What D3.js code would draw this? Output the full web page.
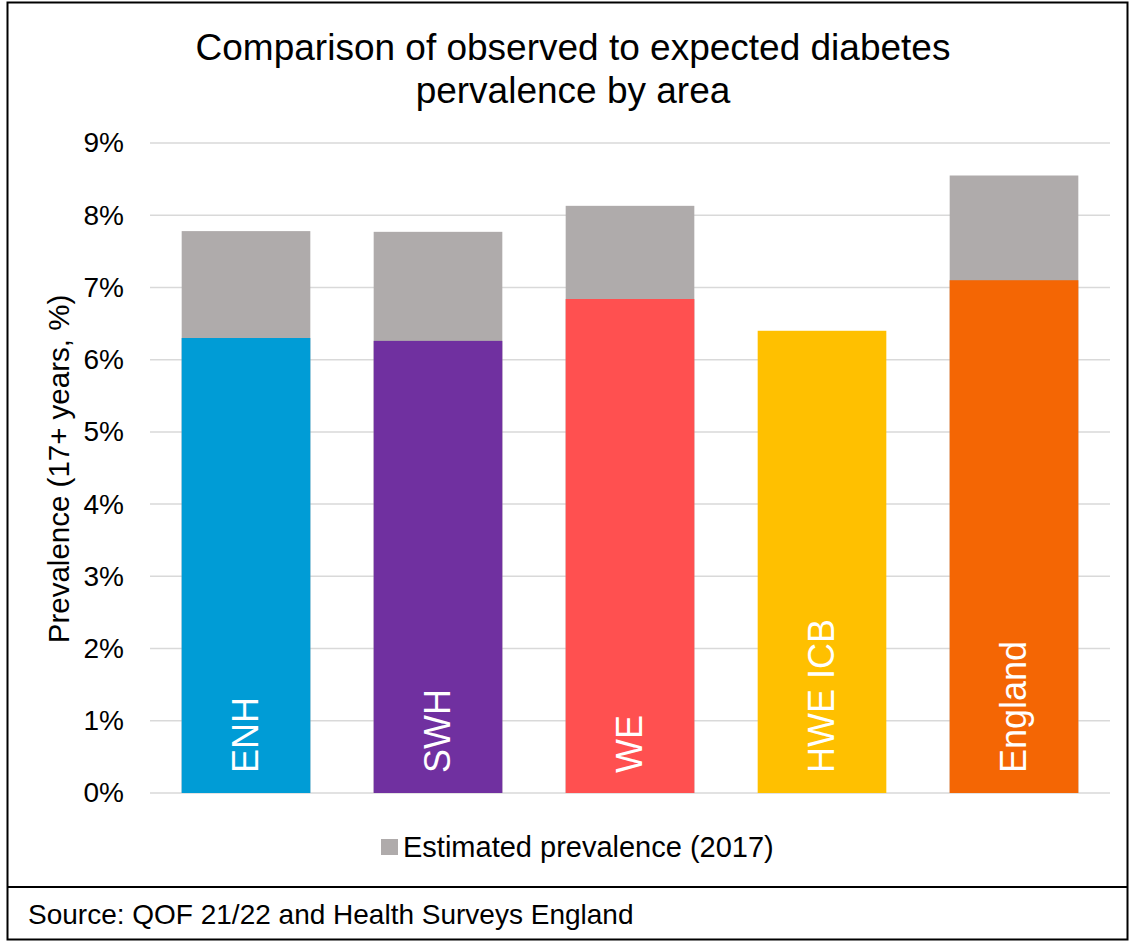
<!DOCTYPE html>
<html>
<head>
<meta charset="utf-8">
<script src="https://cdn.jsdelivr.net/npm/d3@7"></script>
<style>
  html, body { margin: 0; padding: 0; background: #fff; }
  svg { display: block; font-family: Arial, "Liberation Sans", sans-serif; }
</style>
</head>
<body>
<svg id="chart" width="1130" height="941"></svg>
<script>
// Areas and their colours
const areas = ["ENH", "SWH", "WE", "HWE ICB", "England"];
const areaColors = ["#009CD6", "#7030A0", "#FF5050", "#FFC000", "#F46604"];

// Observed (QOF 21/22) prevalence, %
const observed = [6.30, 6.26, 6.84, 6.40, 7.10];
// Estimated prevalence (2017), % — none for HWE ICB
const estimated = [7.78, 7.77, 8.13, null, 8.55];

const yTicks = [0, 1, 2, 3, 4, 5, 6, 7, 8, 9];

const titleLines = ["Comparison of observed to expected diabetes", "pervalence by area"];
const yAxisTitle = "Prevalence (17+ years, %)";
const legendLabel = "Estimated prevalence (2017)";
const sourceText = "Source: QOF 21/22 and Health Surveys England";

const svg = d3.select("#chart");
const plot = { left: 150, right: 1110, top: 143, bottom: 793 };

// Frame and source strip
svg.append("rect").attr("x", 7.5).attr("y", 2.5).attr("width", 1120).attr("height", 937)
  .attr("fill", "#fff").attr("stroke", "#000").attr("stroke-width", 2);
svg.append("line").attr("x1", 7).attr("x2", 1128).attr("y1", 887).attr("y2", 887)
  .attr("stroke", "#000").attr("stroke-width", 2);

const x = d3.scaleBand().domain(areas).range([plot.left, plot.right])
  .paddingInner(0.33).paddingOuter(0.165);
const y = d3.scaleLinear().domain([0, 9]).range([plot.bottom, plot.top]);

// Gridlines
svg.append("g").selectAll("line").data(yTicks).join("line")
  .attr("x1", plot.left).attr("x2", plot.right)
  .attr("y1", d => y(d)).attr("y2", d => y(d))
  .attr("stroke", "#d9d9d9").attr("stroke-width", 1.5);

// Y axis labels
const yAxis = d3.axisLeft(y).tickValues(yTicks).tickFormat(d => d + "%").tickSize(0).tickPadding(26);
const yg = svg.append("g").attr("transform", `translate(${plot.left},0)`).call(yAxis);
yg.select(".domain").remove();
yg.selectAll("text").attr("font-size", 28).attr("fill", "#000")
  .attr("font-family", "Arial, 'Liberation Sans', sans-serif");

// Estimated bars (behind)
const rows = areas.map((a, i) => ({ area: a, color: areaColors[i], obs: observed[i], est: estimated[i] }));
svg.append("g").selectAll("rect").data(rows.filter(d => d.est != null)).join("rect")
  .attr("x", d => x(d.area)).attr("width", x.bandwidth())
  .attr("y", d => y(d.est)).attr("height", d => y(0) - y(d.est))
  .attr("fill", "#AFABAB");

// Observed bars
svg.append("g").selectAll("rect").data(rows).join("rect")
  .attr("x", d => x(d.area)).attr("width", x.bandwidth())
  .attr("y", d => y(d.obs)).attr("height", d => y(0) - y(d.obs))
  .attr("fill", d => d.color);

// Area names inside bars
svg.append("g").selectAll("text").data(rows).join("text")
  .attr("transform", d => `translate(${x(d.area) + x.bandwidth() / 2 + 12},${y(0) - 20}) rotate(-90)`)
  .attr("text-anchor", "start").attr("font-size", 36).attr("fill", "#fff")
  .text(d => d.area);

// Title
svg.append("text").attr("x", 573).attr("text-anchor", "middle").attr("font-size", 37).attr("fill", "#000")
  .selectAll("tspan").data(titleLines).join("tspan")
  .attr("x", 573).attr("y", (d, i) => 60 + i * 43).text(d => d);

// Y axis title
svg.append("text").attr("transform", `translate(69,469) rotate(-90)`)
  .attr("text-anchor", "middle").attr("font-size", 29.5).attr("fill", "#000").text(yAxisTitle);

// Legend
svg.append("rect").attr("x", 381).attr("y", 839).attr("width", 17).attr("height", 16).attr("fill", "#AFABAB");
svg.append("text").attr("x", 403).attr("y", 857).attr("font-size", 29).attr("fill", "#000").text(legendLabel);

// Source
svg.append("text").attr("x", 28).attr("y", 924).attr("font-size", 28).attr("fill", "#000").text(sourceText);
</script>
</body>
</html>
